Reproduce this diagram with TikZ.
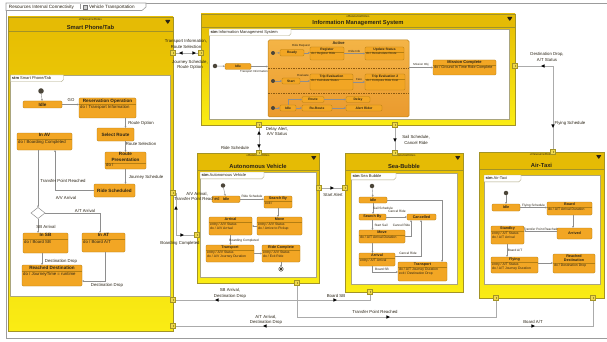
\documentclass[tikz,border=0pt]{standalone}
\usepackage{fontspec}
\setmainfont{Liberation Sans}
\usetikzlibrary{arrows.meta,shapes.geometric,calc,decorations.markings}

\definecolor{frameline}{HTML}{9C9C9C}
\definecolor{blkedge}{HTML}{A39326}
\definecolor{blktop}{HTML}{E6BC02}
\definecolor{blkbot}{HTML}{FAEC14}
\definecolor{hdrfill}{HTML}{E5BB05}
\definecolor{portfill}{HTML}{EFD84C}
\definecolor{stfill}{HTML}{F2A624}
\definecolor{stedge}{HTML}{B47E12}
\definecolor{acttop}{HTML}{F4B446}
\definecolor{actbot}{HTML}{EA9A2E}
\definecolor{actedge}{HTML}{BE8418}
\definecolor{wire}{HTML}{ABABAB}
\definecolor{trline}{HTML}{8E8E8E}
\definecolor{ink}{HTML}{2B2416}
\definecolor{innerline}{HTML}{AAA57E}
\definecolor{regline}{HTML}{8B5A12}

\newcommand{\fs}[2]{\fontsize{#1}{#2}\selectfont}

% simple state: name, x, y, width, height, text
\newcommand{\sst}[6]{%
  \node[stt, sttitle, minimum width=#4pt, minimum height=#5pt] (#1) at (#2,#3) {#6};}
% state with a behaviour compartment:
% name, x, y, width, height, compartment offset, title, behaviours
\newcommand{\cst}[8]{%
  \node[stt, minimum width=#4pt, minimum height=#5pt] (#1) at (#2,#3) {};
  \node[sttitle, anchor=north, align=center] (#1-t) at ([yshift=-0.7pt]#1.north) {#7};
  \draw[stedge, line width=0.3pt] ([yshift=-#6pt]#1.north west) -- ([yshift=-#6pt]#1.north east);
  \node[stbody, anchor=north west] (#1-b) at ([xshift=1.2pt,yshift=-#6pt-0.6pt]#1.north west) {#8};}
% resource block: name, x, y, width, height, header height, title
\newcommand{\resblock}[7]{%
  \node[block, minimum width=#4pt, minimum height=#5pt] (#1) at (#2,#3) {};
  \fill[hdrfill] (#1.north west) rectangle ([yshift=-#6pt]#1.north east);
  \draw[blkedge, line width=0.5pt] ([yshift=-#6pt]#1.north west) -- ([yshift=-#6pt]#1.north east);
  \node[stereo, anchor=north] (#1-st) at ([yshift=-1.4pt]#1.north) {«ResourceRole»};
  \node[blktitle, anchor=south] (#1-ti) at ([yshift=-#6pt+1.2pt]#1.north) {#7};
  \fill[ink, rounded corners=0.6pt] ([xshift=-8pt,yshift=-3pt]#1.north east) -- ++(5.5pt,0pt) -- ++(-2.75pt,-4pt) -- cycle;
  \draw[blkedge, line width=0.9pt] (#1.north west) rectangle (#1.south east);}
% state machine area inside a block: tab name, x1, y1, x2, y2, tab width, title
\newcommand{\smframe}[7]{%
  \draw[fill=white, draw=innerline, line width=0.4pt] (#2,#3) rectangle (#4,#5);
  \draw[fill=white, draw=innerline, line width=0.4pt] (#2,#3) -- ++(#6pt,0pt) -- ++(0pt,-4.6pt) -- ++(-2.2pt,-2.2pt) -- ++(-#6pt+2.2pt,0pt) -- cycle;
  \node[tabtxt, anchor=west] (#1) at ([xshift=1.5pt,yshift=-3.4pt]#2,#3) {\textbf{stm} #7};}

\begin{document}
\begin{tikzpicture}[x=1pt,y=-1pt,
  every node/.style={inner sep=0pt, outer sep=0pt, text=ink},
  block/.style={rectangle, anchor=north west, draw=blkedge, line width=0.9pt, top color=blktop, bottom color=blkbot},
  stereo/.style={font=\fs{3.1}{3.5}},
  blktitle/.style={font=\fs{5.8}{6.6}\bfseries},
  tabtxt/.style={font=\fs{4}{4.6}},
  tabtitle/.style={font=\fs{4.6}{5.2}},
  port/.style={rectangle, draw=blkedge, fill=portfill, line width=0.5pt, minimum size=5pt,
    path picture={\draw[blkedge, line width=0.35pt] ([yshift=-1.2pt]path picture bounding box.north) -- ([yshift=1.2pt]path picture bounding box.south);}},
  wire/.style={draw=wire, line width=0.85pt},
  fwd/.style={postaction={decorate, decoration={markings, mark=at position #1 with {\fill[black] (1.8pt,0pt) -- (-1.6pt,1.7pt) -- (-1.6pt,-1.7pt) -- cycle;}}}},
  bwd/.style={postaction={decorate, decoration={markings, mark=at position #1 with {\fill[black] (-1.8pt,0pt) -- (1.6pt,1.7pt) -- (1.6pt,-1.7pt) -- cycle;}}}},
  flowlbl/.style={font=\fs{4.3}{5.3}, align=center},
  tr/.style={draw=trline, line width=0.4pt, -{Stealth[length=2pt,width=1.8pt]}},
  stt/.style={rectangle, anchor=north west, draw=stedge, fill=stfill, line width=0.4pt, rounded corners=1.2pt},
  active/.style={rectangle, anchor=north west, draw=actedge, line width=0.5pt, rounded corners=1.5pt, top color=acttop, bottom color=actbot},
  regsep/.style={draw=regline, line width=0.35pt, dash pattern=on 1.5pt off 1pt},
  initdot/.style={circle, fill=ink!85, minimum size=5pt},
  sttitle/.style={font=\fs{3.7}{4.3}\bfseries},
  stbody/.style={font=\fs{3.4}{4}, align=left},
  trlbl/.style={font=\fs{3.2}{3.8}, align=center}]

\useasboundingbox (0,0) rectangle (607,342);
\fill[white] (0,0) rectangle (607,342);

% ---------------- diagram frame ----------------
\draw[frameline, line width=0.6pt] (6,3) -- (607,3);
\draw[frameline, line width=0.6pt] (6,3) -- (6,338) -- (607,338);
\draw[frameline, fill=white, line width=0.6pt] (6,3) -- (146,3) -- (146,7) -- (142,10.5) -- (6,10.5) -- cycle;
\node[tabtitle, anchor=west] (diagName) at (9,6.9) {Resources Internal Connectivity};
\draw[frameline, line width=0.4pt] (80,4.2) -- (80,9.5);
\node[draw=black!55, fill=black!18, line width=0.3pt, minimum width=4.5pt, minimum height=4pt] (diagIcon) at (85,6.8) {};
\node[tabtitle, anchor=west] (diagCtx) at (89,6.9) {Vehicle Transportation};

% ---------------- blocks ----------------
\resblock{sp}{8}{17}{165}{314}{14}{Smart Phone/Tab}
\smframe{spTab}{10.5}{75}{170.5}{296}{53}{Smart Phone/Tab}

\resblock{ims}{201}{14}{314}{111}{13}{Information Management System}
\smframe{imsTab}{209}{29}{509}{119}{82}{Information Management System}

\resblock{av}{197}{153}{122}{130}{17}{Autonomous Vehicle}
\smframe{avTab}{200}{172}{316}{277}{64}{Autonomous Vehicle}

\resblock{sb}{345}{153}{118}{139}{17}{Sea-Bubble}
\smframe{sbTab}{351}{173}{457}{284}{45}{Sea Bubble}

\resblock{at}{479}{152}{125}{146}{17}{Air-Taxi}
\smframe{atTab}{484}{175}{600}{284}{37}{Air-Taxi}

% ---------------- Smart Phone/Tab behaviour ----------------
\begin{scope}[sttitle/.style={font=\fs{4.6}{5.2}\bfseries}, stbody/.style={font=\fs{4.3}{5}, align=left}, trlbl/.style={font=\fs{4.3}{4.9}, align=center}]
\node[initdot, minimum size=5.5pt] (spInit) at (41,91) {};
\sst{spIdle}{23}{101}{39}{7}{Idle}
\cst{resOp}{79}{98}{57}{20}{6.5}{Reservation Operation}{do / Transport Information}
\sst{selRoute}{97}{128}{37}{13}{Select Route}
\cst{routePres}{105}{152}{41}{17}{11}{Route\\Presentation}{do /}
\sst{rideSched}{94}{184}{41}{13}{Ride Scheduled}
\cst{inAV}{17}{133}{55}{17}{6.5}{In AV}{do / Boarding Completed}
\node[diamond, draw=trline, fill=white, line width=0.5pt, minimum width=14pt, minimum height=11pt] (spDec) at (38,213) {};
\cst{inSB}{23}{233}{45}{20}{6.5}{In SB}{do / Board SB}
\cst{inAT}{82}{233}{43}{19}{6.5}{In AT}{do / Board A/T}
\cst{reachDest}{22}{265}{60}{21}{6.5}{Reached Destination}{do / JourneyTime = runtime}

\draw[tr] (spInit) -- (spIdle);
\draw[tr] (spIdle) -- (spIdle -| resOp.west);
\draw[tr] (resOp.south -| routePres) -- (selRoute.north -| routePres);
\draw[tr] (selRoute.south -| routePres) -- (routePres.north);
\draw[tr] (routePres.south) -- (rideSched.north -| routePres);
\draw[tr] (rideSched.west) -| ($(inAV.south)+(10.5,0)$);
\draw[tr] (inAV.south -| spDec) -- (spDec.north);
\draw[tr] (spDec.east) -| ($(inAT.north)+(-3.5,0)$);
\draw[tr] (spDec.south) -- (inSB.north -| spDec);
\draw[tr] ($(inSB.south)+(-3.5,0)$) -- ++(0,12);
\draw[tr] ($(inAT.south)+(1.5,0)$) |- ($(reachDest.south east)+(0,-5)$);

\node[trlbl] (lGo) at (71,100.5) {GO};
\node[trlbl] (lRouteOpt) at (141,123) {Route Option};
\node[trlbl] (lRouteSel) at (141,143.5) {Route Selection};
\node[trlbl] (lJourney) at (146,177) {Journey Schedule};
\node[trlbl] (lTransfer) at (63,181) {Transfer Point Reached};
\node[trlbl] (lAVArr) at (66,198) {A/V Arrival};
\node[trlbl] (lATArr) at (85,210.5) {A/T Arrival};
\node[trlbl] (lSBArr) at (46,226.5) {SB Arrival};
\node[trlbl] (lDrop1) at (61,261) {Destination Drop};
\node[trlbl] (lDrop2) at (107,285.5) {Destination Drop};
\end{scope}

% ---------------- Information Management System behaviour ----------------
\begin{scope}[sttitle/.style={font=\fs{3.3}{3.8}\bfseries}, stbody/.style={font=\fs{3}{3.5}, align=left}, trlbl/.style={font=\fs{2.9}{3.3}, align=center}]
\node[initdot, minimum size=4.5pt] (imsInit) at (215,66) {};
\sst{imsIdle}{225}{63.5}{26}{6}{Idle}
\node[active, minimum width=141pt, minimum height=77pt] (act) at (268,40) {};
\node[font=\fs{4}{4.6}\bfseries, anchor=north] (actT) at ([yshift=-1.2pt]act.north) {Active};
\draw[regsep] ($(act.north west)+(0,28)$) -- ($(act.north east)+(0,28)$);
\draw[regsep] ($(act.north west)+(0,53)$) -- ($(act.north east)+(0,53)$);
\draw[tr] (imsInit) -- (imsIdle);
\draw[tr] (imsIdle) -- (imsIdle -| act.west);
\node[trlbl] (imsL1) at (254,71.5) {Transport Information};

% region: registration
\node[initdot, minimum size=4pt] (r1i) at (273,53) {};
\sst{r1a}{280}{49.5}{24}{6.5}{Ready}
\node[trlbl] (r1l1) at (301,46) {Ride Request};
\cst{reg}{310}{47}{34}{13}{5}{Register}{do / Register Ride}
\node[trlbl] (r1l2) at (354.5,51) {Ride Info};
\cst{upd}{365}{47}{39}{13}{5}{Update Status}{do / Recalculate Route}
\draw[tr] (r1i) -- (r1a);
\draw[tr] (r1a) -- (r1a -| reg.west);
\draw[tr] (reg.east) -- (reg.east -| upd.west);

% region: evaluation
\node[initdot, minimum size=4pt] (r2i) at (273,81) {};
\sst{r2a}{282}{78}{18}{6}{Start}
\node[trlbl] (r2l1) at (303,75.5) {Evaluate};
\cst{te1}{310}{74}{43}{16}{5}{Trip Evaluation}{do / Calculate Status}
\node[trlbl] (r2l2) at (359,79.5) {Fare};
\cst{te2}{365}{74}{40}{16}{5}{Trip Evaluation 2}{do / Compute Ride Cost}
\draw[tr] (r2i) -- (r2a);
\draw[tr] (r2a) -- (r2a -| te1.west);
\draw[tr] (te1.east) -- (te1.east -| te2.west);

% region: routing
\node[initdot, minimum size=4pt] (r3i) at (273,108) {};
\sst{r3a}{280}{105}{16}{6}{Idle}
\sst{r3b}{302}{96.5}{22}{6}{Route}
\sst{r3c}{302}{105}{30}{6}{Re-Route}
\sst{r3d}{346}{96.5}{24}{6}{Delay}
\sst{r3e}{346}{105}{36}{6}{Alert Rider}
\draw[tr] (r3i) -- (r3a);
\draw[tr] (r3a.north) |- (r3b.west);
\draw[tr] (r3a) -- (r3a -| r3c.west);
\draw[tr] (r3b) -- (r3b -| r3d.west);
\draw[tr] (r3c) -- (r3c -| r3e.west);

\begin{scope}[sttitle/.style={font=\fs{4}{4.6}\bfseries}, stbody/.style={font=\fs{3.7}{4.3}, align=left}]
\cst{mission}{433}{60}{63}{15}{5.5}{Mission Complete}{do / Ground In Time Ride Complete}
\end{scope}
\draw[tr] (act.east |- mission) -- (mission.west);
\node[trlbl] (imsL2) at (421,65) {Mission Obj};
\end{scope}

% ---------------- Autonomous Vehicle behaviour ----------------
\node[initdot, minimum size=4.5pt] (avInit) at (223,185.5) {};
\sst{avIdle}{212}{196}{28}{6.5}{Idle}
\cst{avSearch}{264}{196}{28}{12}{5}{Search By}{exit /}
\cst{avMove}{257}{217}{45}{18}{5}{Move}{entry / A/V Status\\do / Arrive to Pickup}
\cst{avArrival}{209}{217}{43}{18}{5}{Arrival}{entry / A/V Status\\do / A/V Arrival}
\cst{avTransport}{206}{245}{48}{17}{5}{Transport}{entry / A/V Status\\do / A/V Journey Duration}
\cst{avRide}{262}{245}{38}{17}{5}{Ride Complete}{entry / A/V Status\\do / Exit Ride}
\node[circle, draw=ink, line width=0.4pt, fill=white, minimum size=4.5pt] (avFinal) at (281,269) {};
\fill[ink] (avFinal.center) circle (1.3pt);
\draw[tr] (avInit) -- (avIdle);
\draw[tr] (avIdle) -- (avIdle -| avSearch.west);
\draw[tr] (avSearch.south) -- (avSearch.south |- avMove.north);
\draw[tr] (avMove.west) -- (avMove.west -| avArrival.east);
\draw[tr] (avArrival.south) -- (avArrival.south |- avTransport.north);
\draw[tr] (avTransport.east) -- (avTransport.east -| avRide.west);
\draw[tr] (avRide.south) -- (avFinal);
\node[trlbl] (avL1) at (252,196.5) {Ride Schedule};
\node[trlbl] (avL2) at (244,240.5) {Boarding Completed};

% ---------------- Sea-Bubble behaviour ----------------
\node[initdot, minimum size=4.5pt] (sbInit) at (372,186) {};
\sst{sbIdle}{359}{197}{28}{6}{Idle}
\sst{sbSearch}{359}{214}{27}{6}{Search By}
\sst{sbCancel}{407}{214}{29}{6}{Cancelled}
\cst{sbMove}{359}{230}{46}{13}{5}{Move}{do / A/T Arrival Duration}
\cst{sbArrival}{359}{253}{36}{13}{5}{Arrival}{entry / A/T Arrival}
\cst{sbTransport}{398}{262}{49}{19}{5}{Transport}{do / A/T Journey Duration\\exit / Destination Drop}
\draw[tr] (sbInit) -- (sbIdle);
\draw[tr] (sbIdle.south) -- (sbSearch.north -| sbIdle.south);
\draw[tr] (sbSearch.east) -- (sbSearch.east -| sbCancel.west);
\draw[tr] (sbSearch.south) -- (sbSearch.south |- sbMove.north);
\draw[tr] (sbMove.south -| sbSearch) -- (sbArrival.north -| sbSearch);
\draw[tr] (sbMove.east) -| ($(sbCancel.south west)+(4,0)$);
\draw[tr] ($(sbArrival.north east)+(0,3)$) -| ($(sbCancel.south west)+(14,0)$);
\draw[tr] (sbArrival.south -| sbSearch) |- ($(sbTransport.south west)+(0,-9)$);
\draw[tr] (sbIdle.east) -| ($(sbTransport.north east)+(-5,0)$);
\node[trlbl] (sbL1) at (383,208) {Sail Schedule};
\node[trlbl] (sbL2) at (397,211.8) {Cancel Ride};
\node[trlbl] (sbL3) at (381,225) {Start Sail};
\node[trlbl] (sbL4) at (401.5,225) {Cancel Ride};
\node[trlbl] (sbL5) at (408,253.5) {Cancel Ride};
\node[trlbl] (sbL6) at (382,269.5) {Board SB};

% ---------------- Air-Taxi behaviour ----------------
\node[initdot, minimum size=4.5pt] (atInit) at (506,193) {};
\sst{atIdle}{492}{204}{28}{7}{Idle}
\cst{atBoard}{547}{202}{45}{13}{5}{Board}{do / A/T Arrival Duration}
\sst{atArrived}{557}{228}{35}{11}{Arrived}
\cst{atStandby}{491}{226}{33}{18}{5}{Standby}{entry / A/T Status\\do / A/T Arrival}
\cst{atFlying}{491}{257}{47}{16}{5}{Flying}{entry / A/T Status\\do / A/T Journey Duration}
\cst{atReached}{553}{254}{42}{19}{9.2}{Reached\\Destination}{do / Destination Drop}
\draw[tr] (atInit) -- (atIdle);
\draw[tr] (atIdle.east) -- (atIdle.east -| atBoard.west);
\draw[tr] ($(atBoard.south)+(3.5,0)$) -- ++(0,13);
\draw[tr] ($(atArrived.north west)+(0,3)$) -- ($(atStandby.north east)+(0,5)$);
\draw[tr] ($(atStandby.south)+(-0.5,0)$) -- ++(0,13);
\draw[tr] ($(atFlying.north east)+(0,6)$) -- ($(atReached.north west)+(0,9)$);
\node[trlbl] (atL1) at (533.5,205.5) {Flying Schedule};
\node[trlbl] (atL2) at (540.5,229) {Transfer Point Reached};
\node[trlbl] (atL3) at (515,250.5) {Board A/T};

% ---------------- ports and connectors between parts ----------------
\node[port] (spR1) at (173,53) {};
\node[port] (spR2) at (173,193) {};
\node[port] (spR3) at (173,300) {};
\node[port] (spR4) at (173,326) {};
\node[port] (imsL) at (201,53) {};
\node[port] (imsB1) at (259,125) {};
\node[port] (imsB2) at (395,125) {};
\node[port] (imsR) at (515,66) {};
\node[port] (avT) at (259,153) {};
\node[port] (avL) at (197,235) {};
\node[port] (avR) at (319,188) {};
\node[port] (avB) at (297,283) {};
\node[port] (sbT) at (395,153) {};
\node[port] (sbL) at (345,188) {};
\node[port] (sbB) at (370,292) {};
\node[port] (atT) at (553,152) {};
\node[port] (atB1) at (496,298) {};
\node[port] (atB2) at (593,298) {};

\draw[wire, bwd=5.5pt, fwd=18.5pt] (spR1) -- (imsL);
\draw[wire, bwd=15.5pt, fwd=48.5pt] (spR2) -- (176,193) -- (176,235) -- (avL);
\draw[wire, fwd=10.5pt] (avR) -- (sbL);
\draw[wire, bwd=5.5pt, fwd=18.5pt] (imsB1) -- (avT);
\draw[wire, fwd=12.5pt] (imsB2) -- (sbT);
\draw[wire, bwd=25.5pt, fwd=95.5pt] (imsR) -| (atT);
\draw[wire, bwd=41.5pt, fwd=159.5pt] (spR3) -| (sbB);
\draw[wire, fwd=122.5pt] (avB) |- ($(atB1)+(0,19)$) -- (atB1);
\draw[wire, bwd=89.5pt, fwd=357.5pt] (spR4) -| (atB2);

% ports drawn again so that they sit above the wires
\foreach \p in {spR1,spR2,spR3,spR4,imsL,imsB1,imsB2,imsR,avT,avL,avR,avB,sbT,sbL,sbB,atT,atB1,atB2}
  \node[port] at (\p.center) {};

\node[flowlbl] (fTI) at (186,44) {Transport Information,\\Route Selection};
\node[flowlbl] (fJS) at (190,65) {Journey Schedule,\\Route Option};
\node[flowlbl] (fDelay) at (277,131.5) {Delay Alert,\\A/V Status};
\node[flowlbl] (fRide) at (235,147.5) {Ride Schedule};
\node[flowlbl] (fSail) at (416,140) {Sail Schedule,\\Cancel Ride};
\node[flowlbl] (fDest) at (547,57) {Destination Drop,\\A/T Status};
\node[flowlbl] (fFly) at (570,123) {Flying Schedule};
\node[flowlbl] (fStart) at (333,195) {Start Alert};
\node[flowlbl] (fAV) at (197,196.5) {A/V Arrival,\\Transfer Point Reached};
\node[flowlbl] (fBoardC) at (180,243) {Boarding Completed};
\node[flowlbl] (fSB) at (230,293.5) {SB Arrival,\\Destination Drop};
\node[flowlbl] (fBoardSB) at (336,296) {Board SB};
\node[flowlbl] (fTPR) at (375,312) {Transfer Point Reached};
\node[flowlbl] (fAT) at (266,320) {A/T Arrival,\\Destination Drop};
\node[flowlbl] (fBoardAT) at (533,322) {Board A/T};
\end{tikzpicture}
\end{document}
